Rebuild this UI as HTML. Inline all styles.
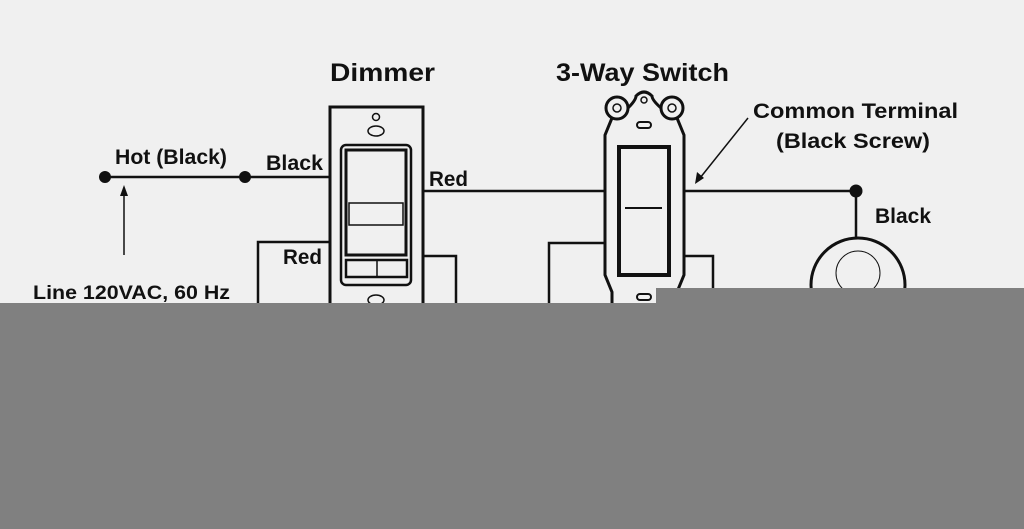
<!DOCTYPE html>
<html><head><style>
html,body{margin:0;padding:0;background:#f0f0f0;}
svg{display:block;font-family:"Liberation Sans",sans-serif;font-weight:bold;}
</style></head><body>
<svg width="1024" height="529" viewBox="0 0 1024 529">
<rect width="1024" height="529" fill="#f0f0f0"/>
<g fill="#111" font-size="21">
<text x="330" y="81" font-size="25" textLength="105" lengthAdjust="spacingAndGlyphs">Dimmer</text>
<text x="556" y="81" font-size="25" textLength="173" lengthAdjust="spacingAndGlyphs">3-Way Switch</text>
<text x="753" y="118" textLength="205" lengthAdjust="spacingAndGlyphs">Common Terminal</text>
<text x="776" y="148" textLength="154" lengthAdjust="spacingAndGlyphs">(Black Screw)</text>
<text x="115" y="164" textLength="112" lengthAdjust="spacingAndGlyphs">Hot (Black)</text>
<text x="266" y="170" textLength="57" lengthAdjust="spacingAndGlyphs">Black</text>
<text x="429" y="186" textLength="39" lengthAdjust="spacingAndGlyphs">Red</text>
<text x="283" y="264" textLength="39" lengthAdjust="spacingAndGlyphs">Red</text>
<text x="875" y="223" textLength="56" lengthAdjust="spacingAndGlyphs">Black</text>
<text x="33" y="299" font-size="19" textLength="197" lengthAdjust="spacingAndGlyphs">Line 120VAC, 60 Hz</text>
</g>
<g stroke="#111" fill="none" stroke-width="2.5">
<line x1="105" y1="177" x2="330" y2="177"/>
<line x1="423" y1="191" x2="605" y2="191"/>
<line x1="684" y1="191" x2="856" y2="191"/>
<line x1="856" y1="191" x2="856" y2="238"/>
<polyline points="330,242 258,242 258,310"/>
<polyline points="423,256 456,256 456,310"/>
<polyline points="605,243 549,243 549,310"/>
<polyline points="684,256 713,256 713,310"/>
<line x1="124" y1="255" x2="124" y2="192" stroke-width="1.5"/>
<line x1="748" y1="118" x2="700" y2="178" stroke-width="1.5"/>
<rect x="330" y="107" width="93" height="220" stroke-width="3"/>
<rect x="341" y="145" width="70" height="140" rx="5"/>
<rect x="346" y="150" width="60" height="105" stroke-width="3"/>
<rect x="349" y="203" width="54" height="22" stroke-width="1.5"/>
<rect x="346" y="260" width="61" height="17" stroke-width="2.5"/>
<line x1="377" y1="260" x2="377" y2="277" stroke-width="1.5"/>
<ellipse cx="376" cy="131" rx="8" ry="5" stroke-width="1.5"/>
<circle cx="376" cy="117" r="3.5" stroke-width="1.5"/>
<ellipse cx="376" cy="300" rx="8" ry="5" stroke-width="1.5"/>
<path d="M612,118 L605,135 L605,275 L612,292 L612,310 M677,118 L684,135 L684,275 L677,292 L677,310" stroke-width="3"/>
<circle cx="617" cy="108" r="11" stroke-width="3"/>
<circle cx="617" cy="108" r="4" stroke-width="1.5"/>
<circle cx="672" cy="108" r="11" stroke-width="3"/>
<circle cx="672" cy="108" r="4" stroke-width="1.5"/>
<path d="M628,108 Q636,100 636,96 Q644,88 652,96 Q652,100 661,108" stroke-width="3"/>
<circle cx="644" cy="100" r="3" stroke-width="1.5"/>
<rect x="637" y="122" width="14" height="6" rx="3" stroke-width="2"/>
<rect x="619" y="147" width="50" height="128" stroke-width="4"/>
<line x1="625" y1="208" x2="662" y2="208" stroke-width="2"/>
<rect x="637" y="294" width="14" height="6" rx="3" stroke-width="2"/>
<circle cx="858" cy="285" r="47" stroke-width="3"/>
<circle cx="858" cy="273" r="22" stroke-width="1"/>
</g>
<g fill="#111">
<circle cx="105" cy="177" r="6"/><circle cx="245" cy="177" r="6"/><circle cx="856" cy="191" r="6.5"/>
<polygon points="124,185 120,196 128,196"/>
<polygon points="695,184 697,172 704,178"/>
</g>
<rect x="0" y="303" width="1024" height="226" fill="#808080"/>
<rect x="656" y="288" width="368" height="20" fill="#808080"/>
</svg>
</body></html>
